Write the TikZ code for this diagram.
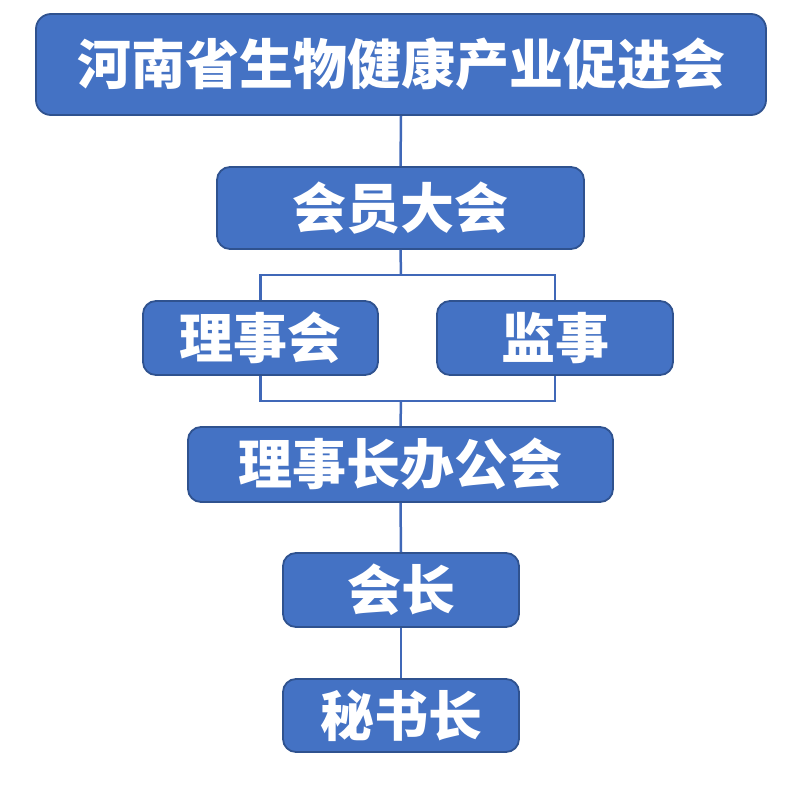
\documentclass[tikz,border=0pt]{standalone}
\usepackage{fontspec}
\newfontfamily\cjk{Noto Sans CJK SC Black}
\definecolor{boxfill}{HTML}{4472C4}
\definecolor{boxline}{HTML}{2F528F}
\definecolor{linkc}{HTML}{4068B8}
\begin{document}
\begin{tikzpicture}[x=1pt,y=-1pt,
  box/.style={draw=boxline, line width=1.8pt, fill=boxfill, rounded corners=13pt,
    text=white, font=\cjk\fontsize{54pt}{60pt}\selectfont,
    inner sep=0pt, anchor=center},
  link/.style={draw=linkc, line width=2.5pt}]
\useasboundingbox (0,0) rectangle (800,800);
\coordinate (j1) at (401,275);
\coordinate (j2) at (401,401);
\node[box, minimum width=730pt, minimum height=101pt, rounded corners=15pt] (top) at (401,64.5) {河南省生物健康产业促进会};
\node[box, minimum width=367pt, minimum height=82pt] (hy) at (400.5,208) {会员大会};
\node[box, minimum width=235pt, minimum height=74pt] (lsh) at (260.5,338) {理事会};
\node[box, minimum width=236pt, minimum height=74pt] (js) at (555,338) {监事};
\node[box, minimum width=425pt, minimum height=75pt] (bgh) at (400.5,464.5) {理事长办公会};
\node[box, minimum width=236pt, minimum height=74pt] (hz) at (401,590) {会长};
\node[box, minimum width=236pt, minimum height=73pt] (msz) at (401,715.5) {秘书长};
\draw[link] (top.south) -- (hy.north);
\draw[link] (hy.south) -- (j1);
\draw[link] (j1) -| (lsh.north);
\draw[link] (j1) -| (js.north);
\draw[link] (lsh.south) |- (j2);
\draw[link] (js.south) |- (j2);
\draw[link] (j2) -- (bgh.north);
\draw[link] (bgh.south) -- (hz.north);
\draw[link] (hz.south) -- (msz.north);
\end{tikzpicture}
\end{document}
